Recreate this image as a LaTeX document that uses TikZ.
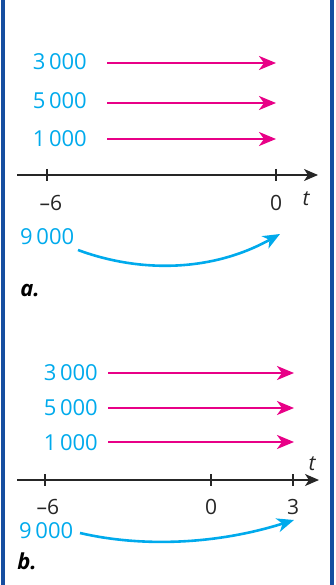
\documentclass[tikz,border=0pt]{standalone}
\usepackage{fontspec}
\setmainfont{Open Sans}
\usetikzlibrary{arrows.meta,positioning}
\definecolor{flowcyan}{RGB}{0,170,236}
\definecolor{flowmagenta}{RGB}{232,0,135}
\definecolor{frameblue}{RGB}{22,78,160}

\begin{document}
\begin{tikzpicture}[x=1pt,y=-1pt,>=Stealth,line join=round,
 amount/.style={flowcyan,font=\fontsize{22}{22}\selectfont,inner sep=0pt},
 ticklab/.style={black!85,font=\fontsize{21}{21}\selectfont,inner sep=0pt},
 flow/.style={flowmagenta,line width=2.6pt,-{Stealth[length=17pt,width=14pt,inset=5pt]}},
 swap/.style={flowcyan,line width=2.6pt,-{Stealth[length=17pt,width=14pt,inset=5pt]}},
 axis/.style={black!85,line width=1.6pt,-{Stealth[length=14pt,width=12pt,inset=4pt]}},
 part/.style={font=\fontsize{22}{22}\selectfont\bfseries\itshape,inner sep=0pt}]
 \useasboundingbox (0,0) rectangle (336,585);
 \draw[frameblue,line width=4pt] (3,0)--(3,585) (332,0)--(332,585);
 % part a
 \node[amount,anchor=east] (a3) at (87,62) {3\,000};
 \node[amount,anchor=east] (a5) at (87,101) {5\,000};
 \node[amount,anchor=east] (a1) at (87,139) {1\,000};
 \coordinate (a3s) at (107,63);
 \coordinate (a5s) at (107,103);
 \coordinate (a1s) at (107,139);
 \coordinate (a3e) at (276,63);
 \coordinate (a5e) at (276,103);
 \coordinate (a1e) at (276,139);
 \draw[flow] (a3s)--(a3e);
 \draw[flow] (a5s)--(a5e);
 \draw[flow] (a1s)--(a1e);
 \coordinate (ta0) at (17,175);
 \coordinate (ta1) at (318,175);
 \draw[axis] (ta0)--(ta1);
 \draw[black!85,line width=1.2pt] (47,169)--(47,181) (276,169)--(276,181);
 \node[ticklab] (am6) at (51,203) {–6};
 \node[ticklab] (a0) at (276,203) {0};
 \node[ticklab,font=\fontsize{21}{21}\selectfont\itshape] (at) at (306,199) {t};
 \node[amount,anchor=west] (a9) at (20,237) {9\,000};
 \coordinate (a9s) at (78,250);
 \coordinate (a9e) at (280,234);
 \draw[swap] (a9s) .. controls (140,273) and (212,272) .. (a9e);
 \node[part] (la) at (30,291) {a.};
 % part b
 \node[amount,anchor=east] (b3) at (98,373) {3\,000};
 \node[amount,anchor=east] (b5) at (98,408) {5\,000};
 \node[amount,anchor=east] (b1) at (98,443) {1\,000};
 \coordinate (b3s) at (108,373);
 \coordinate (b5s) at (108,408);
 \coordinate (b1s) at (108,442);
 \coordinate (b3e) at (294,373);
 \coordinate (b5e) at (294,408);
 \coordinate (b1e) at (294,442);
 \draw[flow] (b3s)--(b3e);
 \draw[flow] (b5s)--(b5e);
 \draw[flow] (b1s)--(b1e);
 \coordinate (tb0) at (17,480);
 \coordinate (tb1) at (319,480);
 \draw[axis] (tb0)--(tb1);
 \draw[black!85,line width=1.2pt] (45,474)--(45,486) (211,474)--(211,486) (293,474)--(293,486);
 \node[ticklab] (bm6) at (48,507) {–6};
 \node[ticklab] (b0) at (211,507) {0};
 \node[ticklab] (b3t) at (293,507) {3};
 \node[ticklab,font=\fontsize{21}{21}\selectfont\itshape] (bt) at (312,464) {t};
 \node[amount,anchor=west] (b9) at (19,531) {9\,000};
 \coordinate (b9s) at (80,533);
 \coordinate (b9e) at (294,520);
 \draw[swap] (b9s) .. controls (140,547) and (215,545) .. (b9e);
 \node[part] (lb) at (27,561) {b.};
\end{tikzpicture}
\end{document}
